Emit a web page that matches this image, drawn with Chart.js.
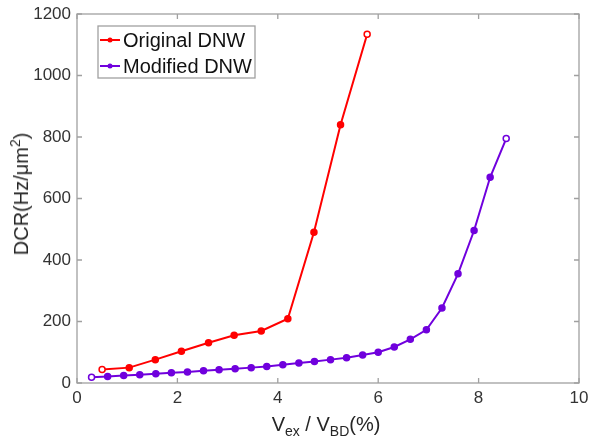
<!DOCTYPE html>
<html>
<head>
<meta charset="utf-8">
<script src="https://cdn.jsdelivr.net/npm/chart.js@4/dist/chart.umd.min.js"></script>
<style>
  html, body { margin: 0; padding: 0; background: #fff; }
  #wrap { position: relative; width: 589px; height: 443px; }
  canvas { position: absolute; left: 0; top: 0; }
  .title { position: absolute; font-family: "Liberation Sans", Arial, sans-serif; font-size: 20px; color: #262626; white-space: nowrap; line-height: 1; }
  .title sub, .title sup { font-size: 14px; line-height: 0; }
  #xtitle { left: 326px; top: 414px; transform: translateX(-50%); }
  #ytitle { left: 21px; top: 194px; transform: translate(-50%, -50%) rotate(-90deg); }
</style>
</head>
<body>
<div id="wrap">
  <canvas id="c" width="589" height="443"></canvas>
  <div class="title" id="xtitle">V<sub>ex</sub> / V<sub>BD</sub>(%)</div>
  <div class="title" id="ytitle">DCR(Hz/μm<sup>2</sup>)</div>
</div>
<script>
const seriesNames = ["Original DNW", "Modified DNW"];
const xOriginal = [0.50, 1.04, 1.56, 2.08, 2.62, 3.13, 3.67, 4.20, 4.72, 5.25, 5.78];
const yOriginal = [44, 50, 76, 103, 131, 155, 169, 209, 490, 840, 1134];
const xModified = [0.29, 0.61, 0.93, 1.25, 1.57, 1.88, 2.20, 2.52, 2.83, 3.15, 3.47, 3.78, 4.10, 4.42, 4.73, 5.05, 5.37, 5.69, 6.00, 6.32, 6.64, 6.96, 7.27, 7.59, 7.91, 8.23, 8.55];
const yModified = [19, 21, 24, 27, 30, 33, 36, 40, 43, 46, 50, 54, 59, 65, 70, 76, 82, 91, 100, 117, 142, 173, 244, 355, 496, 669, 795];
const xTicks = [0, 2, 4, 6, 8, 10];
const yTicks = [0, 200, 400, 600, 800, 1000, 1200];

const RED = '#ff0000';
const PURPLE = '#7000dd';
const FONT = '"Liberation Sans", Arial, sans-serif';

function pts(xs, ys) { return xs.map((x, i) => ({ x: x, y: ys[i] })); }
function bg(n, c) { return Array.from({ length: n }, (_, i) => (i === 0 || i === n - 1) ? '#ffffff' : c); }

const framePlugin = {
  id: 'frame',
  afterDatasetsDraw(chart) {
    const { ctx, chartArea: a, scales } = chart;
    ctx.save();
    ctx.strokeStyle = '#a0a0a0';
    ctx.lineWidth = 1.3;
    ctx.strokeRect(a.left, a.top, a.right - a.left, a.bottom - a.top);
    ctx.beginPath();
    const L = 5;
    xTicks.forEach(v => {
      const px = scales.x.getPixelForValue(v);
      ctx.moveTo(px, a.bottom); ctx.lineTo(px, a.bottom - L);
      ctx.moveTo(px, a.top); ctx.lineTo(px, a.top + L);
    });
    yTicks.forEach(v => {
      const py = scales.y.getPixelForValue(v);
      ctx.moveTo(a.left, py); ctx.lineTo(a.left + L, py);
      ctx.moveTo(a.right, py); ctx.lineTo(a.right - L, py);
    });
    ctx.stroke();

    // legend
    const bx = 98, by = 26, bw = 157, bh = 52;
    ctx.fillStyle = '#ffffff';
    ctx.fillRect(bx, by, bw, bh);
    ctx.strokeStyle = '#a0a0a0';
    ctx.lineWidth = 1.3;
    ctx.strokeRect(bx, by, bw, bh);
    chart.data.datasets.forEach((ds, i) => {
      const cy = 40 + i * 26;
      ctx.strokeStyle = ds.borderColor;
      ctx.lineWidth = 2;
      ctx.beginPath(); ctx.moveTo(100, cy); ctx.lineTo(120, cy); ctx.stroke();
      ctx.fillStyle = ds.borderColor;
      ctx.beginPath(); ctx.arc(110, cy, 2.5, 0, Math.PI * 2); ctx.fill();
      ctx.fillStyle = '#111';
      ctx.font = '20px ' + FONT;
      ctx.textBaseline = 'middle';
      ctx.textAlign = 'left';
      ctx.fillText(ds.label, 123, cy + 1);
    });
    ctx.restore();
  }
};

new Chart(document.getElementById('c'), {
  type: 'scatter',
  data: {
    datasets: [
      { label: seriesNames[0], data: pts(xOriginal, yOriginal), showLine: true, borderColor: RED, backgroundColor: RED,
        borderWidth: 2, pointRadius: 3, pointBorderWidth: 1.5, pointBackgroundColor: bg(xOriginal.length, RED), pointBorderColor: RED },
      { label: seriesNames[1], data: pts(xModified, yModified), showLine: true, borderColor: PURPLE, backgroundColor: PURPLE,
        borderWidth: 2, pointRadius: 3, pointBorderWidth: 1.5, pointBackgroundColor: bg(xModified.length, PURPLE), pointBorderColor: PURPLE }
    ]
  },
  options: {
    responsive: false,
    animation: false,
    layout: { padding: { top: 14, right: 10, left: 0, bottom: 0 } },
    plugins: { legend: { display: false }, tooltip: { enabled: false } },
    scales: {
      x: {
        type: 'linear', min: 0, max: 10,
        afterBuildTicks(s) { s.ticks = xTicks.map(v => ({ value: v })); },
        afterFit(s) { s.height = 60; s.paddingLeft = 0; s.paddingRight = 0; },
        grid: { display: false, drawTicks: false },
        border: { display: false },
        ticks: { color: '#333', font: { family: FONT, size: 17 }, padding: 5, maxRotation: 0, callback: v => String(v) }
      },
      y: {
        type: 'linear', min: 0, max: 1200,
        afterBuildTicks(s) { s.ticks = yTicks.map(v => ({ value: v })); },
        afterFit(s) { s.width = 77; s.paddingTop = 0; s.paddingBottom = 0; },
        grid: { display: false, drawTicks: false },
        border: { display: false },
        ticks: { color: '#333', font: { family: FONT, size: 17 }, padding: 6, callback: v => String(v) }
      }
    }
  },
  plugins: [framePlugin]
});
</script>
</body>
</html>
